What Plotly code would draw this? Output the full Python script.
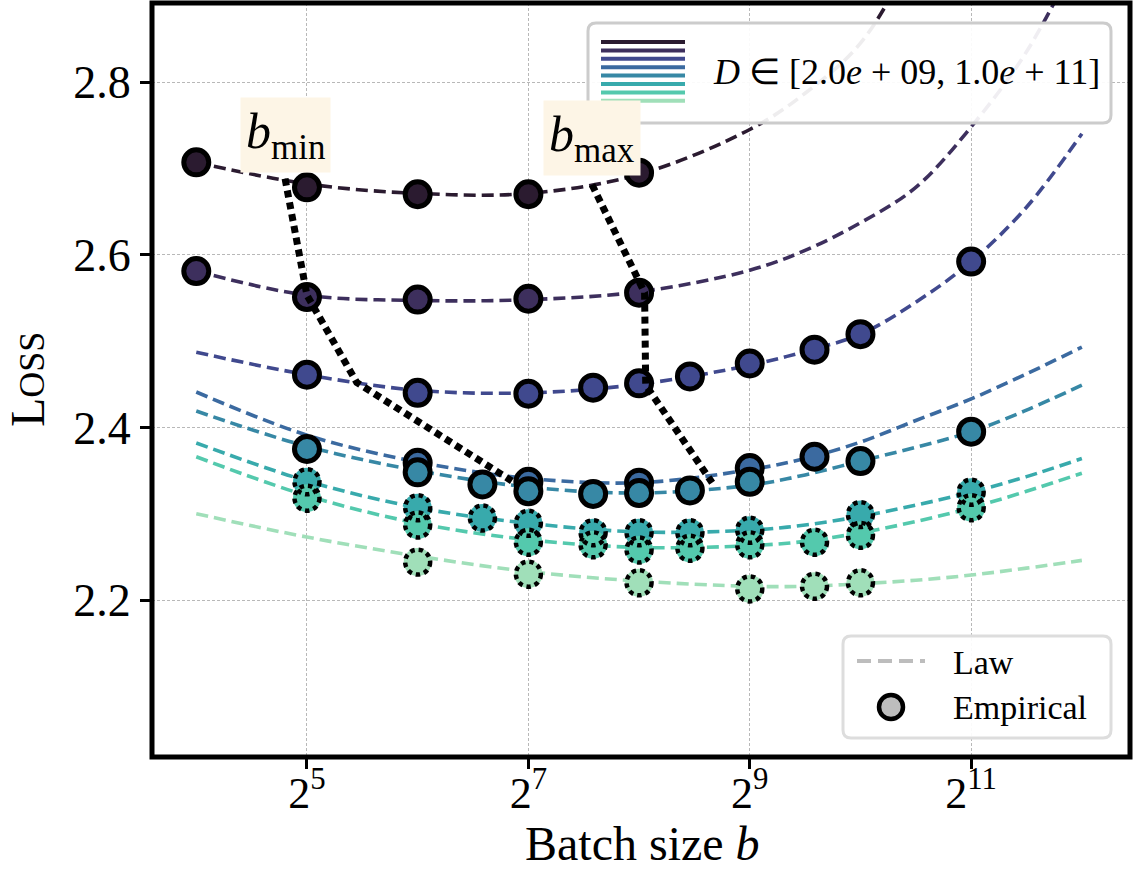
import numpy as np
import plotly.graph_objects as go

# ---------------- data ----------------
colors = ["#2b1b30", "#3d2f5d", "#40498e", "#3b6aa0",
          "#3788a5", "#38aaac", "#54c9ad", "#a0dfb9"]
dotted = [False, False, False, False, False, True, True, True]

# law curves (batch size grid, loss values)
law_b = [16, 32, 64, 128, 256, 512, 724, 1024, 1448, 2048, 2896, 4096]
law_D1 = [2.707, 2.682, 2.671, 2.671, 2.693, 2.745, 2.787, 2.845, 2.950, 3.060, 3.200, 3.400]
law_D2 = [2.581, 2.553, 2.547, 2.548, 2.557, 2.582, 2.605, 2.637, 2.678, 2.748, 2.835, 2.955]
law_D3 = [2.487, 2.461, 2.443, 2.440, 2.450, 2.472, 2.488, 2.508, 2.545, 2.592, 2.655, 2.740]
law_D4 = [2.441, 2.391, 2.360, 2.341, 2.336, 2.351, 2.364, 2.383, 2.408, 2.433, 2.462, 2.493]
law_D5 = [2.419, 2.378, 2.350, 2.331, 2.324, 2.333, 2.345, 2.361, 2.377, 2.395, 2.420, 2.449]
law_D6 = [2.382, 2.338, 2.307, 2.289, 2.279, 2.281, 2.287, 2.297, 2.310, 2.325, 2.343, 2.364]
law_D7 = [2.366, 2.321, 2.289, 2.270, 2.261, 2.263, 2.268, 2.278, 2.291, 2.307, 2.326, 2.347]
law_D8 = [2.300, 2.273, 2.251, 2.233, 2.222, 2.216, 2.216, 2.219, 2.223, 2.229, 2.237, 2.246]

# empirical points
emp_b_D1 = [16, 32, 64, 128, 256]
emp_L_D1 = [2.707, 2.678, 2.670, 2.670, 2.695]
emp_b_D2 = [16, 32, 64, 128, 256]
emp_L_D2 = [2.581, 2.551, 2.548, 2.549, 2.556]
emp_b_D3 = [32, 64, 128, 192, 256, 352, 512, 768, 1024, 2048]
emp_L_D3 = [2.461, 2.440, 2.439, 2.446, 2.451, 2.459, 2.474, 2.490, 2.508, 2.592]
emp_b_D4 = [64, 128, 256, 512, 768]
emp_L_D4 = [2.359, 2.337, 2.336, 2.353, 2.366]
emp_b_D5 = [32, 64, 96, 128, 192, 256, 352, 512, 1024, 2048]
emp_L_D5 = [2.375, 2.348, 2.334, 2.326, 2.323, 2.324, 2.327, 2.337, 2.361, 2.395]
emp_b_D6 = [32, 64, 96, 128, 192, 256, 352, 512, 1024, 2048]
emp_L_D6 = [2.337, 2.307, 2.295, 2.289, 2.278, 2.278, 2.278, 2.281, 2.299, 2.325]
emp_b_D7 = [32, 64, 128, 192, 256, 352, 512, 768, 1024, 2048]
emp_L_D7 = [2.318, 2.287, 2.267, 2.264, 2.258, 2.260, 2.264, 2.267, 2.275, 2.307]
emp_b_D8 = [64, 128, 256, 512, 768, 1024]
emp_L_D8 = [2.244, 2.230, 2.220, 2.213, 2.216, 2.220]

# b_min / b_max paths
bmin_b = [27.9, 32.0, 43.7, 115.4]
bmin_L = [2.688, 2.553, 2.452, 2.338]
bmax_b = [190.7, 265.0, 266.9, 404.5]
bmax_L = [2.681, 2.556, 2.449, 2.336]

xtick_exp = [5, 7, 9, 11]
xtick_text = ["2<sup>5</sup>", "2<sup>7</sup>", "2<sup>9</sup>", "2<sup>11</sup>"]
ytick_vals = [2.2, 2.4, 2.6, 2.8]
ytick_text = ["2.2", "2.4", "2.6", "2.8"]

laws = [law_D1, law_D2, law_D3, law_D4, law_D5, law_D6, law_D7, law_D8]
emp_b = [emp_b_D1, emp_b_D2, emp_b_D3, emp_b_D4, emp_b_D5, emp_b_D6, emp_b_D7, emp_b_D8]
emp_L = [emp_L_D1, emp_L_D2, emp_L_D3, emp_L_D4, emp_L_D5, emp_L_D6, emp_L_D7, emp_L_D8]

# ---------------- layout geometry ----------------
W, H = 1134, 881
ML, MR, MT, MB = 152, 4, 3, 124
PW, PH = W - ML - MR, H - MT - MB
FONT = "Liberation Serif"


def px(xp):
    return (xp - ML) / PW


def py(yp):
    return (H - MB - yp) / PH


def rrect_path(x0, y0, x1, y1, r):
    pts = [("M", [(x0 + r, y0)]), ("L", [(x1 - r, y0)]), ("Q", [(x1, y0), (x1, y0 + r)]),
           ("L", [(x1, y1 - r)]), ("Q", [(x1, y1), (x1 - r, y1)]), ("L", [(x0 + r, y1)]),
           ("Q", [(x0, y1), (x0, y1 - r)]), ("L", [(x0, y0 + r)]), ("Q", [(x0, y0), (x0 + r, y0)])]
    s = ""
    for cmd, ps in pts:
        s += cmd + " " + " ".join(f"{px(a):.5f},{py(b):.5f}" for a, b in ps) + " "
    return s + "Z"


fig = go.Figure()

# law curves
lx = np.log2(law_b)
for i, L in enumerate(laws):
    fig.add_trace(go.Scatter(x=lx, y=L, mode="lines", line_shape="spline",
                             line=dict(color=colors[i], width=3.6, dash="12px,6px"),
                             showlegend=False, hoverinfo="skip"))

shapes = []
# empirical markers
for i in range(8):
    ex = np.log2(emp_b[i])
    if dotted[i]:
        fig.add_trace(go.Scatter(x=ex, y=emp_L[i], mode="markers",
                                 marker=dict(size=28, color=colors[i], line=dict(width=0)),
                                 showlegend=False))
        for xv, yv in zip(ex, emp_L[i]):
            shapes.append(dict(type="circle", xref="x", yref="y", xsizemode="pixel",
                               ysizemode="pixel", xanchor=float(xv), yanchor=float(yv),
                               x0=-12.5, x1=12.5, y0=-12.5, y1=12.5,
                               line=dict(color="black", width=4.5, dash="4.5px,4px")))
    else:
        fig.add_trace(go.Scatter(x=ex, y=emp_L[i], mode="markers",
                                 marker=dict(size=25, color=colors[i],
                                             line=dict(width=5, color="black")),
                                 showlegend=False))

# b_min / b_max dotted paths
for bb, LL in [(bmin_b, bmin_L), (bmax_b, bmax_L)]:
    fig.add_trace(go.Scatter(x=np.log2(bb), y=LL, mode="lines",
                             line=dict(color="black", width=7, dash="7px,5px"),
                             showlegend=False, hoverinfo="skip"))

# frame
shapes.append(dict(type="rect", xref="paper", yref="paper", x0=0, x1=1, y0=0, y1=1,
                   line=dict(color="black", width=5)))

# legend 1 (D range)
shapes.append(dict(type="path", xref="paper", yref="paper",
                   path=rrect_path(588, 23, 1111, 123, 8),
                   fillcolor="rgba(255,255,255,0.92)", line=dict(color="#cccccc", width=3)))
for i, c in enumerate(colors):
    yy = 42 + i * 8.4
    shapes.append(dict(type="line", xref="paper", yref="paper",
                       x0=px(601), x1=px(685), y0=py(yy), y1=py(yy),
                       line=dict(color=c, width=4)))

# legend 2 (Law / Empirical)
shapes.append(dict(type="path", xref="paper", yref="paper",
                   path=rrect_path(843, 636, 1111, 738, 8),
                   fillcolor="rgba(255,255,255,0.92)", line=dict(color="#dddddd", width=3)))
shapes.append(dict(type="line", xref="paper", yref="paper",
                   x0=px(857), x1=px(925), y0=py(661), y1=py(661),
                   line=dict(color="#bdbdbd", width=4, dash="14px,7px")))
shapes.append(dict(type="circle", xref="paper", yref="paper",
                   x0=px(879), x1=px(903), y0=py(695), y1=py(719),
                   fillcolor="#bdbdbd", line=dict(color="black", width=4.5)))

annotations = [
    dict(xref="paper", yref="paper", x=px(711), y=py(72), xanchor="left", yanchor="middle",
         text="<i>D</i> ∈ [2.0<i>e</i> + 09, 1.0<i>e</i> + 11]", showarrow=False,
         font=dict(family=FONT, size=36, color="black")),
    dict(xref="paper", yref="paper", x=px(951), y=py(662), xanchor="left", yanchor="middle",
         text="Law", showarrow=False, font=dict(family=FONT, size=34, color="black")),
    dict(xref="paper", yref="paper", x=px(951), y=py(707), xanchor="left", yanchor="middle",
         text="Empirical", showarrow=False, font=dict(family=FONT, size=34, color="black")),
    dict(xref="x", yref="y", x=float(np.log2(bmin_b[0])), y=bmin_L[0], yshift=44,
         text="<i>b</i><sub>min</sub>", showarrow=False, bgcolor="#fdf5e6", borderpad=5,
         font=dict(family=FONT, size=50, color="black")),
    dict(xref="x", yref="y", x=float(np.log2(bmax_b[0])), y=bmax_L[0], yshift=47,
         text="<i>b</i><sub>max</sub>", showarrow=False, bgcolor="#fdf5e6", borderpad=5,
         font=dict(family=FONT, size=50, color="black")),
    # axis titles
    dict(xref="paper", yref="paper", x=px(642), y=py(843), xanchor="center", yanchor="middle",
         text="Batch size <i>b</i>", showarrow=False,
         font=dict(family=FONT, size=48, color="black")),
    dict(xref="paper", yref="paper", x=px(27), y=py(380), xanchor="center", yanchor="middle",
         textangle=-90, text="L<span style='font-size:36px'>OSS</span>", showarrow=False,
         font=dict(family=FONT, size=48, color="black")),
]

fig.update_layout(
    width=W, height=H, margin=dict(l=ML, r=MR, t=MT, b=MB),
    plot_bgcolor="white", paper_bgcolor="white",
    shapes=shapes, annotations=annotations,
    font=dict(family=FONT, color="black"),
    xaxis=dict(range=[3.6, 12.435], tickmode="array", tickvals=xtick_exp, ticktext=xtick_text,
               showgrid=True, gridcolor="#b8b8b8", gridwidth=1, griddash="3px,2px",
               zeroline=False, showline=False, ticks="outside", ticklen=11, tickwidth=2.5,
               tickcolor="black", tickfont=dict(family=FONT, size=44), ticklabelstandoff=-14),
    yaxis=dict(range=[2.0183, 2.8915], tickmode="array", tickvals=ytick_vals, ticktext=ytick_text,
               showgrid=True, gridcolor="#b8b8b8", gridwidth=1, griddash="3px,2px",
               zeroline=False, showline=False, ticks="outside", ticklen=11, tickwidth=2.5,
               tickcolor="black", tickfont=dict(family=FONT, size=46)),
)

fig.write_html("out.html")
